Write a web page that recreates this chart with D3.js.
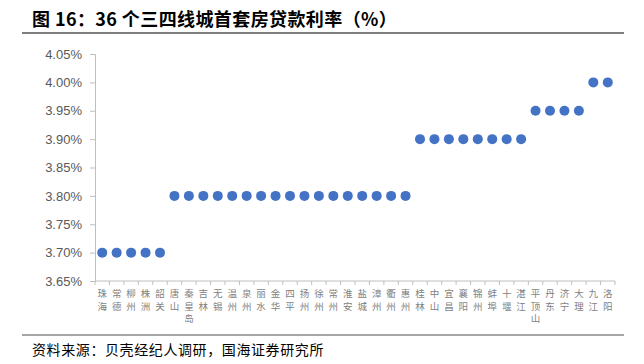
<!DOCTYPE html>
<html>
<head>
<meta charset="utf-8">
<script src="https://cdn.jsdelivr.net/npm/d3@7"></script>
<style>
  body { margin: 0; background: #fff; }
  svg { display: block; font-family: "Noto Sans CJK SC", "Liberation Sans", sans-serif; }
</style>
</head>
<body>
<svg id="chart" width="644" height="364"></svg>
<script>
const cities = ["珠海","常德","柳州","株洲","韶关","唐山","秦皇岛","吉林","无锡","温州","泉州","丽水",
  "金华","四平","扬州","徐州","常州","淮安","盐城","漳州","衢州","惠州","桂林","中山","宜昌","襄阳",
  "锦州","蚌埠","十堰","湛江","平顶山","丹东","济宁","大理","九江","洛阳"];
const rates = [3.70,3.70,3.70,3.70,3.70,
  3.80,3.80,3.80,3.80,3.80,3.80,3.80,3.80,3.80,3.80,3.80,3.80,3.80,3.80,3.80,3.80,3.80,
  3.90,3.90,3.90,3.90,3.90,3.90,3.90,3.90,
  3.95,3.95,3.95,3.95,
  4.00,4.00];
const yTicks = [3.65,3.70,3.75,3.80,3.85,3.90,3.95,4.00,4.05];

const svg = d3.select("#chart");
const data = cities.map((c, i) => ({ city: c, rate: rates[i] }));

const margin = { top: 54, right: 29, bottom: 83, left: 95 };
const width = 644 - margin.left - margin.right;
const height = 364 - margin.top - margin.bottom;

// title + rules
svg.append("text")
  .attr("x", 32).attr("y", 26)
  .attr("font-size", 18).attr("font-weight", "bold").attr("fill", "#000")
  .attr("letter-spacing", 0.4)
  .text("图 16：36 个三四线城首套房贷款利率（%）");
svg.append("line").attr("x1", 22).attr("x2", 624).attr("y1", 33).attr("y2", 33)
  .attr("stroke", "#555").attr("stroke-width", 1.5);
svg.append("line").attr("x1", 22).attr("x2", 624).attr("y1", 335).attr("y2", 335)
  .attr("stroke", "#888").attr("stroke-width", 1.5);
svg.append("text")
  .attr("x", 32).attr("y", 355)
  .attr("font-size", 14).attr("fill", "#000").attr("letter-spacing", 0.6)
  .text("资料来源：贝壳经纪人调研，国海证券研究所");

const g = svg.append("g").attr("transform", `translate(${margin.left},${margin.top})`);

const x = d3.scaleBand().domain(cities).range([0, width]).padding(0);
const y = d3.scaleLinear().domain([3.65, 4.05]).range([height, 0]);

// y axis
const yAxis = g.append("g")
  .call(d3.axisLeft(y).tickValues(yTicks).tickFormat(d => d.toFixed(2) + "%").tickSizeOuter(0).tickSize(5));
yAxis.select(".domain").attr("stroke", "#bfbfbf");
yAxis.selectAll(".tick line").attr("stroke", "#bfbfbf");
yAxis.selectAll("text").attr("fill", "#595959").attr("font-size", 13).attr("x", -13)
  .style("font-family", "'Liberation Sans', sans-serif");

// x axis with ticks at category boundaries
const xAxis = g.append("g").attr("transform", `translate(0,${height})`);
xAxis.append("line").attr("x1", 0).attr("x2", width).attr("stroke", "#bfbfbf");
xAxis.selectAll(".tk").data(d3.range(cities.length + 1)).enter().append("line")
  .attr("x1", i => i * x.bandwidth()).attr("x2", i => i * x.bandwidth())
  .attr("y1", 0).attr("y2", 4).attr("stroke", "#bfbfbf");

// vertical labels: one text per character
const chars = [];
cities.forEach(c => Array.from(c).forEach((ch, k) => chars.push({ city: c, ch, k })));
xAxis.selectAll(".lbl").data(chars).enter().append("text")
  .attr("class", "lbl")
  .attr("x", d => x(d.city) + x.bandwidth() / 2)
  .attr("y", d => 16 + d.k * 12.5)
  .attr("fill", "#7f7f7f").attr("font-size", 9.5).attr("text-anchor", "middle")
  .text(d => d.ch);

// dots
g.selectAll(".dot").data(data).enter().append("circle")
  .attr("class", "dot")
  .attr("cx", d => x(d.city) + x.bandwidth() / 2)
  .attr("cy", d => y(d.rate))
  .attr("r", 5)
  .attr("fill", "#4472c4");
</script>
</body>
</html>
